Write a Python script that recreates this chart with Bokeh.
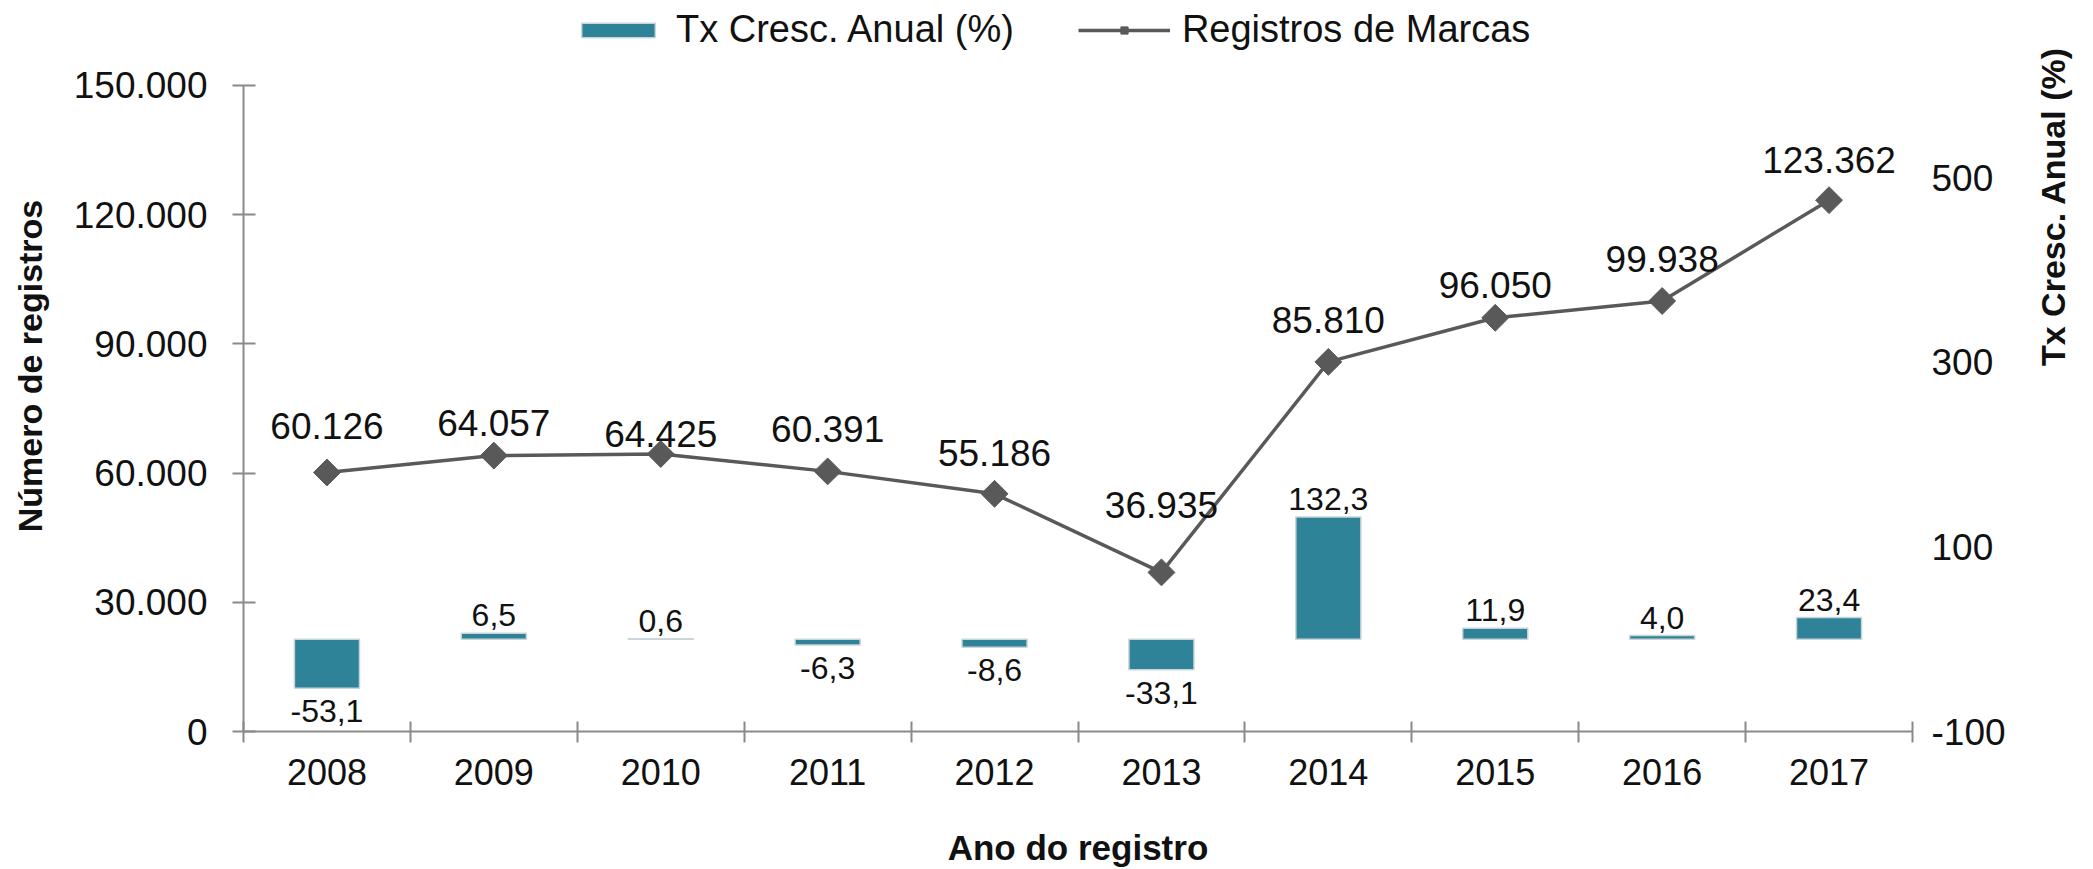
from bokeh.plotting import figure
from bokeh.models import (Range1d, LinearAxis, FixedTicker, Legend, LegendItem)
from bokeh.core.properties import value
from bokeh.embed import file_html
from bokeh.resources import INLINE

# ---- data ----
years = [2008, 2009, 2010, 2011, 2012, 2013, 2014, 2015, 2016, 2017]
registros = [60126, 64057, 64425, 60391, 55186, 36935, 85810, 96050, 99938, 123362]
tx_cresc = [-53.1, 6.5, 0.6, -6.3, -8.6, -33.1, 132.3, 11.9, 4.0, 23.4]
left_ticks = [0, 30000, 60000, 90000, 120000, 150000]
left_tick_labels = ["0", "30.000", "60.000", "90.000", "120.000", "150.000"]
right_ticks = [-100, 100, 300, 500]
right_tick_labels = ["-100", "100", "300", "500"]

# ---- style ----
FONT = "Liberation Sans"
TEAL = "#2E8399"
GREY = "#595959"
AXIS = "#8A8A8A"
INK = "#111111"
# pixel lift of each data label above its marker (labels were hand-placed)
label_lift_px = [47, 33, 20, 42, 41, 67, 42, 33, 42, 40]

W, H = 2093, 869
# the frame reaches the top of the canvas so that the legend (drawn in the
# frame) sits above the axes; the axes themselves are bounded to their ranges
AX_TOP_PX, AX_BOTTOM_PX = 85.0, 731.7
stretch = AX_BOTTOM_PX / (AX_BOTTOM_PX - AX_TOP_PX)
left_lo, left_hi = 0, 150000
right_lo, right_hi = -100, 600

p = figure(width=W, height=H, output_backend="svg", toolbar_location=None,
           x_range=Range1d(2007.5, 2017.5),
           y_range=Range1d(left_lo, left_lo + (left_hi - left_lo) * stretch),
           min_border_left=243, min_border_right=180, min_border_top=0,
           min_border_bottom=int(H - AX_BOTTOM_PX), outline_line_color=None)
p.xgrid.visible = False
p.ygrid.visible = False
p.extra_y_ranges = {"pct": Range1d(right_lo, right_lo + (right_hi - right_lo) * stretch)}

# bars
bars = p.vbar(x=years, top=tx_cresc, bottom=0, width=0.39, y_range_name="pct",
              fill_color=TEAL, line_color="#C9D5D8", line_width=1.5)

# line + markers
line = p.line(years, registros, line_color=GREY, line_width=3.5)
marks = p.scatter(years, registros, marker="square", angle=0.785, size=19,
                  fill_color=GREY, line_color=GREY)

# data labels on line
reg_labels = [f"{v:,}".replace(",", ".") for v in registros]
p.text(x=years, y=registros, text=reg_labels, y_offset=[-d for d in label_lift_px],
       text_align="center", text_baseline="alphabetic",
       text_font=value(FONT), text_font_size="37px", text_color=INK)

# bar labels
pos = [(x, v) for x, v in zip(years, tx_cresc) if v >= 0]
neg = [(x, v) for x, v in zip(years, tx_cresc) if v < 0]
fmt = lambda v: f"{v:.1f}".replace(".", ",")
p.text(x=[a for a, _ in pos], y=[b for _, b in pos], text=[fmt(b) for _, b in pos],
       y_range_name="pct", y_offset=-18, text_align="center",
       text_baseline="alphabetic", text_font=value(FONT), text_font_size="32px",
       text_color=INK)
p.text(x=[a for a, _ in neg], y=[b for _, b in neg], text=[fmt(b) for _, b in neg],
       y_range_name="pct", y_offset=12, text_align="center",
       text_baseline="top", text_font=value(FONT), text_font_size="32px",
       text_color=INK)

# x axis
xa = p.xaxis[0]
xa.ticker = FixedTicker(ticks=years,
                        minor_ticks=[y - 0.5 for y in years] + [years[-1] + 0.5])
xa.major_label_overrides = {y: str(y) for y in years}
xa.major_tick_line_color = None
xa.minor_tick_line_color = AXIS
xa.minor_tick_line_width = 2
xa.minor_tick_in = 10
xa.minor_tick_out = 11
xa.major_tick_out = 11
xa.major_tick_in = 0
xa.major_label_standoff = 16
xa.axis_line_color = AXIS
xa.axis_line_width = 2
xa.major_label_text_font = FONT
xa.major_label_text_font_size = "36px"
xa.major_label_text_color = INK
xa.axis_label = "Ano do registro"
xa.axis_label_text_font = FONT
xa.axis_label_text_font_style = "bold"
xa.axis_label_text_font_size = "35px"
xa.axis_label_text_color = INK
xa.axis_label_standoff = 40

# left axis
ya = p.yaxis[0]
ya.bounds = (left_lo, left_hi)
ya.ticker = FixedTicker(ticks=left_ticks)
ya.major_label_overrides = dict(zip(left_ticks, left_tick_labels))
ya.minor_tick_line_color = None
ya.major_tick_line_color = AXIS
ya.major_tick_line_width = 2
ya.major_tick_in = 12
ya.major_tick_out = 11
ya.major_label_standoff = 25
ya.axis_line_color = AXIS
ya.axis_line_width = 2
ya.major_label_text_font = FONT
ya.major_label_text_font_size = "37px"
ya.major_label_text_color = INK
ya.axis_label = "Número de registros"
ya.axis_label_text_font = FONT
ya.axis_label_text_font_style = "bold"
ya.axis_label_text_font_size = "34px"
ya.axis_label_text_color = INK
ya.axis_label_standoff = 22

# right axis
ra = LinearAxis(y_range_name="pct", ticker=FixedTicker(ticks=right_ticks),
                bounds=(right_lo, right_hi))
ra.major_label_overrides = dict(zip(right_ticks, right_tick_labels))
ra.axis_line_color = None
ra.major_tick_line_color = None
ra.minor_tick_line_color = None
ra.major_tick_out = 0
ra.major_tick_in = 0
ra.major_label_standoff = 19
ra.major_label_text_font = FONT
ra.major_label_text_font_size = "37px"
ra.major_label_text_color = INK
ra.axis_label = "Tx Cresc. Anual (%)"
ra.axis_label_text_font = FONT
ra.axis_label_text_font_style = "bold"
ra.axis_label_text_font_size = "34px"
ra.axis_label_text_color = INK
ra.axis_label_standoff = 44
if "axis_label_orientation" in ra.properties():
    ra.axis_label_orientation = 1.5708
p.add_layout(ra, "right")

legend = Legend(items=[LegendItem(label="Tx Cresc. Anual (%)", renderers=[bars]),
                       LegendItem(label="Registros de Marcas", renderers=[line, marks])],
                orientation="horizontal", location=(329, 680),
                padding=0, margin=0, spacing=64, label_standoff=12,
                glyph_width=92, glyph_height=18,
                label_text_font=FONT, label_text_font_size="38px",
                label_text_color=INK,
                border_line_alpha=0, background_fill_alpha=0)
p.add_layout(legend, "center")

open("out.html", "w").write(file_html(p, INLINE))
